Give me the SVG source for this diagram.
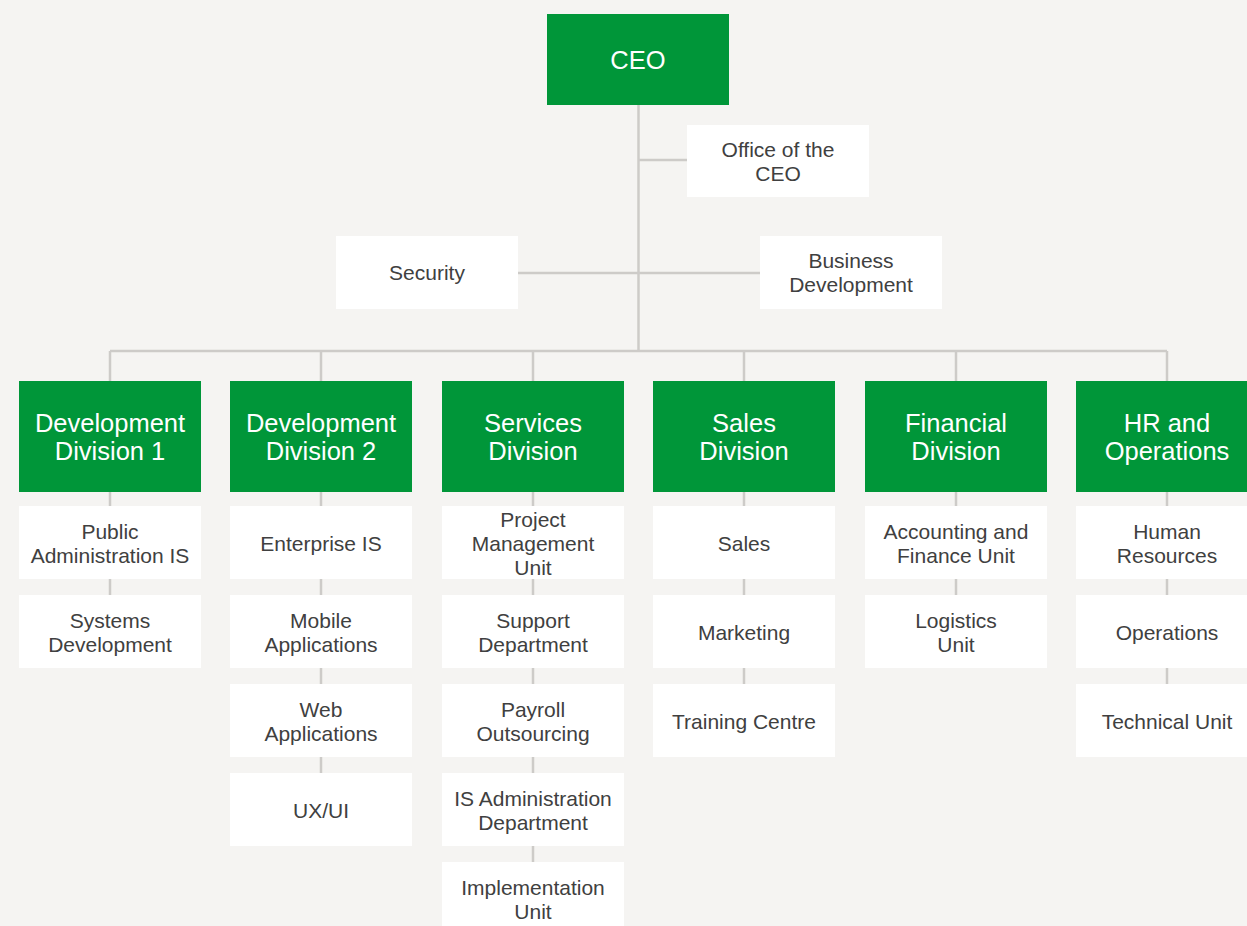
<svg xmlns="http://www.w3.org/2000/svg" width="1247" height="926" viewBox="0 0 1247 926">
<style>
.bg{fill:#f5f4f2}
.g{fill:#009639}
.w{fill:#ffffff}
.tg{font-family:"Liberation Sans",Arial,sans-serif;font-size:25.5px;fill:#ffffff;text-anchor:middle}
.tw{font-family:"Liberation Sans",Arial,sans-serif;font-size:21px;fill:#404040;text-anchor:middle}
.c{stroke:#cdcbc8;stroke-width:2.5;fill:none}
</style>
<rect class="bg" x="0" y="0" width="1247" height="926"/>
<g id="connectors">
<path class="c" d="M638.5 105V351M638.5 160H687M518 273H760M110 351H1167M110 351V381M321 351V381M533 351V381M744 351V381M956 351V381M1167 351V381"/>
<path class="c" d="M110 491V595M321 491V773M533 491V862M744 491V684M956 491V595M1167 491V684"/>
</g>
<g id="ceo"><rect class="g" x="547" y="14" width="182" height="91"/><text class="tg" x="638" y="69" font-size="26">CEO</text></g>
<g id="office"><rect class="w" x="687" y="125" width="182" height="72"/><text class="tw" x="778" y="157">Office of the</text><text class="tw" x="778" y="181">CEO</text></g>
<g id="security"><rect class="w" x="336" y="236" width="182" height="73"/><text class="tw" x="427" y="279.5">Security</text></g>
<g id="bizdev"><rect class="w" x="760" y="236" width="182" height="73"/><text class="tw" x="851" y="267.5">Business</text><text class="tw" x="851" y="291.5">Development</text></g>

<g id="div1"><rect class="g" x="19" y="381" width="182" height="111"/><text class="tg" x="110" y="431.5">Development</text><text class="tg" x="110" y="460">Division 1</text></g>
<g id="div2"><rect class="g" x="230" y="381" width="182" height="111"/><text class="tg" x="321" y="431.5">Development</text><text class="tg" x="321" y="460">Division 2</text></g>
<g id="div3"><rect class="g" x="442" y="381" width="182" height="111"/><text class="tg" x="533" y="431.5">Services</text><text class="tg" x="533" y="460">Division</text></g>
<g id="div4"><rect class="g" x="653" y="381" width="182" height="111"/><text class="tg" x="744" y="431.5">Sales</text><text class="tg" x="744" y="460">Division</text></g>
<g id="div5"><rect class="g" x="865" y="381" width="182" height="111"/><text class="tg" x="956" y="431.5">Financial</text><text class="tg" x="956" y="460">Division</text></g>
<g id="div6"><rect class="g" x="1076" y="381" width="182" height="111"/><text class="tg" x="1167" y="431.5">HR and</text><text class="tg" x="1167" y="460">Operations</text></g>

<g id="d1-1"><rect class="w" x="19" y="506" width="182" height="73"/><text class="tw" x="110" y="539">Public</text><text class="tw" x="110" y="563">Administration IS</text></g>
<g id="d1-2"><rect class="w" x="19" y="595" width="182" height="73"/><text class="tw" x="110" y="628">Systems</text><text class="tw" x="110" y="652">Development</text></g>

<g id="d2-1"><rect class="w" x="230" y="506" width="182" height="73"/><text class="tw" x="321" y="551">Enterprise IS</text></g>
<g id="d2-2"><rect class="w" x="230" y="595" width="182" height="73"/><text class="tw" x="321" y="628">Mobile</text><text class="tw" x="321" y="652">Applications</text></g>
<g id="d2-3"><rect class="w" x="230" y="684" width="182" height="73"/><text class="tw" x="321" y="717">Web</text><text class="tw" x="321" y="741">Applications</text></g>
<g id="d2-4"><rect class="w" x="230" y="773" width="182" height="73"/><text class="tw" x="321" y="818">UX/UI</text></g>

<g id="d3-1"><rect class="w" x="442" y="506" width="182" height="73"/><text class="tw" x="533" y="527">Project</text><text class="tw" x="533" y="551">Management</text><text class="tw" x="533" y="575">Unit</text></g>
<g id="d3-2"><rect class="w" x="442" y="595" width="182" height="73"/><text class="tw" x="533" y="628">Support</text><text class="tw" x="533" y="652">Department</text></g>
<g id="d3-3"><rect class="w" x="442" y="684" width="182" height="73"/><text class="tw" x="533" y="717">Payroll</text><text class="tw" x="533" y="741">Outsourcing</text></g>
<g id="d3-4"><rect class="w" x="442" y="773" width="182" height="73"/><text class="tw" x="533" y="806">IS Administration</text><text class="tw" x="533" y="830">Department</text></g>
<g id="d3-5"><rect class="w" x="442" y="862" width="182" height="73"/><text class="tw" x="533" y="895">Implementation</text><text class="tw" x="533" y="919">Unit</text></g>

<g id="d4-1"><rect class="w" x="653" y="506" width="182" height="73"/><text class="tw" x="744" y="551">Sales</text></g>
<g id="d4-2"><rect class="w" x="653" y="595" width="182" height="73"/><text class="tw" x="744" y="640">Marketing</text></g>
<g id="d4-3"><rect class="w" x="653" y="684" width="182" height="73"/><text class="tw" x="744" y="729">Training Centre</text></g>

<g id="d5-1"><rect class="w" x="865" y="506" width="182" height="73"/><text class="tw" x="956" y="539">Accounting and</text><text class="tw" x="956" y="563">Finance Unit</text></g>
<g id="d5-2"><rect class="w" x="865" y="595" width="182" height="73"/><text class="tw" x="956" y="628">Logistics</text><text class="tw" x="956" y="652">Unit</text></g>

<g id="d6-1"><rect class="w" x="1076" y="506" width="182" height="73"/><text class="tw" x="1167" y="539">Human</text><text class="tw" x="1167" y="563">Resources</text></g>
<g id="d6-2"><rect class="w" x="1076" y="595" width="182" height="73"/><text class="tw" x="1167" y="640">Operations</text></g>
<g id="d6-3"><rect class="w" x="1076" y="684" width="182" height="73"/><text class="tw" x="1167" y="729">Technical Unit</text></g>
</svg>
